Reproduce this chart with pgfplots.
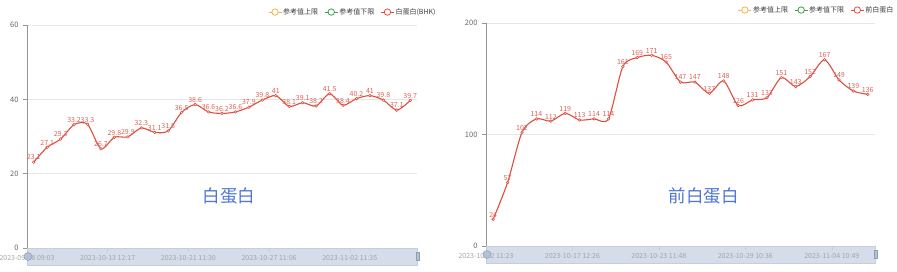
\documentclass[border=0pt]{standalone}
\usepackage{pgfplots}
\pgfplotsset{compat=1.18}
\usepackage{fontspec}
\setmainfont{Noto Sans CJK SC}
\newfontfamily\cjk{Noto Sans CJK SC}
\definecolor{cRed}{RGB}{222,78,62}
\definecolor{cLab}{RGB}{226,96,84}
\definecolor{cOrange}{RGB}{245,180,70}
\definecolor{cGreen}{RGB}{60,160,75}
\definecolor{cBlue}{RGB}{78,118,210}
\definecolor{cGrid}{RGB}{230,230,230}
\definecolor{cAxis}{RGB}{150,150,150}
\definecolor{cTick}{RGB}{102,102,102}
\definecolor{cDate}{RGB}{165,165,165}
\definecolor{cSlider}{RGB}{212,221,233}
\definecolor{cSliderB}{RGB}{196,206,220}
\definecolor{cHandle}{RGB}{178,193,214}
\definecolor{cHandleB}{RGB}{140,158,184}
\definecolor{cLeg}{RGB}{60,60,60}

\pgfplotsset{
  legimg/.style={legend image code/.code={
     \draw[#1,line width=0.8pt] (0pt,0pt)--(13pt,0pt);
     \draw[#1,fill=white,line width=0.8pt] (6.5pt,0pt) circle (3.2pt);}},
  mychart/.style={
    scale only axis,
    height=223pt,
    axis x line*=bottom,
    axis y line*=left,
    x axis line style={draw=cSliderB},
    y axis line style={draw=cAxis,line width=0.8pt},
    ymajorgrids,
    grid style={cGrid,line width=0.6pt},
    tick align=outside,
    major tick length=4pt,
    ytick style={draw=cAxis,line width=0.6pt},
    xtick style={draw=cSliderB,line width=0.5pt},
    /pgf/number format/assume math mode=true,
    yticklabel style={font=\fontsize{7.5}{8}\selectfont,text=cTick,xshift=-1pt},
    xticklabel style={font=\fontsize{7}{8}\selectfont,text=cDate,anchor=center,yshift=-6pt},
    clip=false,
    legend columns=3,
    legend style={draw=none,fill=none,font=\cjk\fontsize{7}{8}\selectfont,text=cLeg,
      anchor=east,at={(1.051,1.058)},inner sep=0pt,
      /tikz/every even column/.append style={column sep=5pt},
      nodes={inner sep=1.2pt}},
    legend cell align=left,
  },
  myline/.style={cRed,line width=1.1pt,smooth,tension=0.45,
    mark=*,mark size=1.3pt,mark options={fill=white,draw=cRed,line width=0.6pt},
    nodes near coords,
    nodes near coords style={font=\fontsize{7}{8}\selectfont,text=cLab,anchor=south,inner sep=1.8pt},
    forget plot},
}

\pgfplotstableread{
x y
0 23.1
1 27.1
2 29.3
3 33.2
4 33.3
5 26.7
6 29.8
7 29.9
8 32.3
9 31.1
10 31.5
11 36.5
12 38.6
13 36.6
14 36.2
15 36.6
16 37.9
17 39.8
18 41
19 38.1
20 39.1
21 38.2
22 41.5
23 38.4
24 40.2
25 41
26 39.8
27 37.1
28 39.7
}\albumin

\pgfplotstableread{
x y
0 24
1 57
2 102
3 114
4 112
5 119
6 113
7 114
8 114
9 161
10 169
11 171
12 165
13 147
14 147
15 137
16 148
17 126
18 131
19 133
20 151
21 143
22 152
23 167
24 149
25 139
26 136
}\prealbumin

\begin{document}
\begin{tikzpicture}[x=1pt,y=1pt]
\useasboundingbox (0,0) rectangle (897,272);
% data-zoom sliders (decoration)
\fill[cSlider,draw=cSliderB,line width=0.4pt] (27,7) rectangle (417,24);
\fill[cSlider,draw=cSliderB,line width=0.4pt] (486,9) rectangle (875,26);

\begin{axis}[mychart,
  at={(27pt,24pt)},anchor=south west,width=390pt,
  xmin=-0.5,xmax=28.5,ymin=0,ymax=60,
  ytick={0,20,40,60},
  xtick={-0.5,5.5,11.5,17.5,23.5},
  xticklabels={2023-09-28 09:03,2023-10-13 12:17,2023-10-21 11:30,2023-10-27 11:06,2023-11-02 11:35},
]
\addlegendimage{legimg=cOrange}
\addlegendentry{参考值上限}
\addlegendimage{legimg=cGreen}
\addlegendentry{参考值下限}
\addlegendimage{legimg=cRed}
\addlegendentry{白蛋白(BHK)}
\addplot[myline] table[x=x,y=y] {\albumin};
\node[font=\cjk\fontsize{17.5}{18}\selectfont,text=cBlue] at (rel axis cs:0.518,0.233) {白蛋白};
\end{axis}

\begin{axis}[mychart,
  at={(486pt,26pt)},anchor=south west,width=389pt,
  xmin=-0.5,xmax=26.5,ymin=0,ymax=200,
  ytick={0,100,200},
  xtick={-0.5,5.5,11.5,17.5,23.5},
  xticklabels={2023-10-02 11:23,2023-10-17 12:26,2023-10-23 11:48,2023-10-29 10:36,2023-11-04 10:49},
]
\addlegendimage{legimg=cOrange}
\addlegendentry{参考值上限}
\addlegendimage{legimg=cGreen}
\addlegendentry{参考值下限}
\addlegendimage{legimg=cRed}
\addlegendentry{前白蛋白}
\addplot[myline] table[x=x,y=y] {\prealbumin};
\node[font=\cjk\fontsize{17.5}{18}\selectfont,text=cBlue] at (rel axis cs:0.560,0.224) {前白蛋白};
\end{axis}

% slider handles (decoration)
\filldraw[fill=cHandle,draw=cHandleB,line width=0.5pt] (28,15.5) circle (4);
\filldraw[fill=cHandle,draw=cHandleB,line width=0.5pt] (416,11.5) rectangle (419,19.5);
\filldraw[fill=cHandle,draw=cHandleB,line width=0.5pt] (487,17.5) circle (4);
\filldraw[fill=cHandle,draw=cHandleB,line width=0.5pt] (874,13.5) rectangle (877,21.5);
\end{tikzpicture}
\end{document}
